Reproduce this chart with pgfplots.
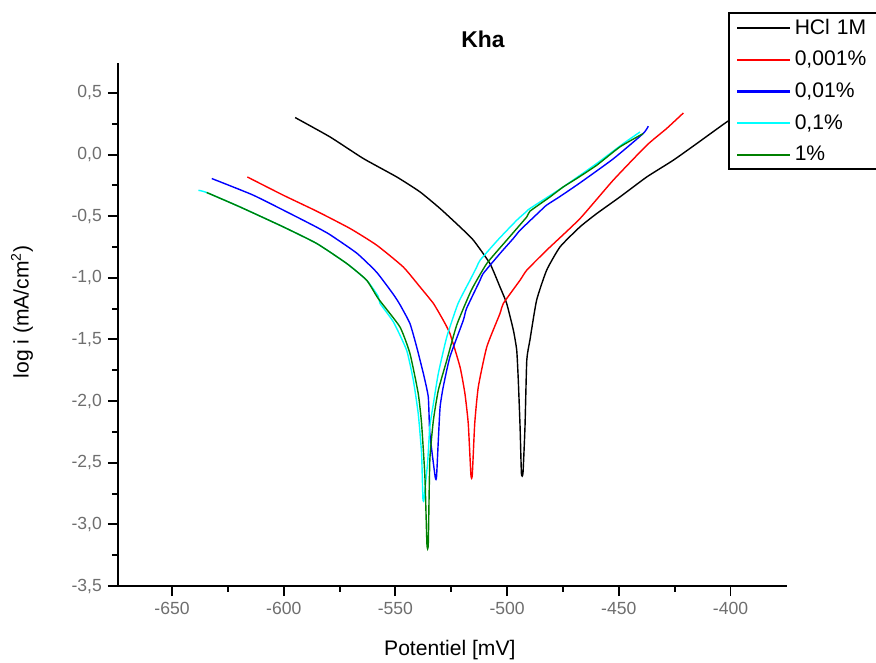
\documentclass[border=0pt]{standalone}
\usepackage{pgfplots}
\pgfplotsset{compat=1.18}
\usepackage{fontspec}
\setmainfont{Liberation Sans}
\definecolor{ogreen}{RGB}{0,128,0}
\definecolor{ocyan}{RGB}{0,255,255}
\definecolor{ored}{RGB}{255,0,0}
\definecolor{oblue}{RGB}{0,0,255}
\definecolor{tickgray}{RGB}{110,110,110}
\begin{document}
\begin{tikzpicture}
\useasboundingbox (0,0) rectangle (17.52cm,13.24cm);
\clip (0,0) rectangle (17.52cm,13.24cm);
\begin{axis}[
  at={(2.36cm,1.52cm)}, anchor=south west,
  scale only axis, width=13.38cm, height=10.466cm,
  xmin=-674.2, xmax=-374.7, ymin=-3.5, ymax=0.745,
  axis lines=left, axis line style={-, line width=1.1pt},
  xtick={-650,-600,...,-400}, ytick={-3.5,-3,...,0.5},
  minor x tick num=1, minor y tick num=1,
  tick align=outside, tick style={line width=1.1pt, black},
  major tick length=0.2cm, minor tick length=0.11cm,
  /pgf/number format/assume math mode=true,
  /pgf/number format/use comma,
  yticklabel style={/pgf/number format/fixed, /pgf/number format/fixed zerofill, /pgf/number format/precision=1},
  xticklabel style={/pgf/number format/1000 sep={}},
  tick label style={font=\fontsize{10}{12}\selectfont, text=tickgray},
  xlabel={Potentiel [mV]}, ylabel={log i (mA/cm\textsuperscript{2})},
  label style={font=\fontsize{12}{14}\selectfont},
  xlabel style={at={(axis description cs:0.496,-0.122)}, anchor=center},
  ylabel style={at={(axis description cs:-0.1435,0.524)}, anchor=center},
  title={\textbf{Kha}}, title style={font=\fontsize{13}{15}\selectfont, at={(axis description cs:0.5456,1.024)}, anchor=center},
  legend style={at={(axis description cs:0.912,1.097)}, anchor=north west, draw=black, line width=1.1pt, fill=white,
    font=\fontsize{12}{14}\selectfont, row sep=4.1pt, inner xsep=4pt, inner ysep=1.5pt},
  legend cell align=left,
  legend image code/.code={\draw[#1, line width=1.2pt] (0cm,0cm) -- (1.06cm,0cm);},
  legend style={nodes={text width=3cm}},
  every axis plot/.append style={line width=0.8pt, smooth, tension=0.3},
  clip=false,
]
\addplot[black] table {
-594.9 0.300
-579.3 0.143
-564.4 -0.032
-549.4 -0.182
-539.0 -0.303
-530.0 -0.438
-521.1 -0.587
-515.1 -0.695
-507.7 -0.884
-503.2 -1.074
-500.2 -1.208
-497.2 -1.425
-495.7 -1.587
-495.0 -1.830
-494.2 -2.209
-493.6 -2.585
-492.9 -2.585
-492.0 -2.209
-491.2 -1.668
-489.8 -1.506
-486.8 -1.182
-482.3 -0.938
-476.3 -0.749
-467.4 -0.587
-459.9 -0.479
-449.5 -0.344
-437.5 -0.182
-425.6 -0.046
-415.1 0.089
-401.7 0.264
-394.0 0.350
};
\addlegendentry{HCl 1M}
\addplot[ored] table {
-616.3 -0.182
-600.2 -0.330
-585.2 -0.460
-570.3 -0.600
-558.4 -0.735
-546.5 -0.912
-539.0 -1.074
-533.0 -1.208
-528.6 -1.344
-525.6 -1.452
-521.1 -1.722
-518.9 -1.938
-517.4 -2.182
-516.2 -2.600
-515.6 -2.600
-514.5 -2.182
-512.9 -1.885
-509.1 -1.560
-503.2 -1.290
-501.7 -1.208
-494.2 -1.019
-491.2 -0.938
-482.3 -0.776
-467.4 -0.520
-452.5 -0.208
-437.5 0.075
-428.6 0.211
-421.1 0.337
};
\addlegendentry{0,001\%}
\addplot[oblue] table {
-632.2 -0.195
-613.6 -0.330
-594.2 -0.506
-585.2 -0.590
-579.3 -0.650
-567.3 -0.800
-558.4 -0.955
-550.9 -1.135
-547.9 -1.220
-543.5 -1.371
-540.5 -1.560
-537.5 -1.776
-535.3 -1.966
-534.6 -2.263
-532.2 -2.615
-531.6 -2.615
-530.8 -2.317
-530.0 -2.047
-528.6 -1.885
-525.6 -1.641
-519.6 -1.344
-518.2 -1.250
-512.1 -1.019
-510.7 -0.965
-503.2 -0.803
-497.2 -0.680
-494.2 -0.614
-485.3 -0.460
-482.3 -0.410
-476.3 -0.340
-467.4 -0.230
-452.5 -0.035
-439.1 0.170
-436.8 0.230
};
\addlegendentry{0,01\%}
\addplot[ocyan] table {
-638.2 -0.290
-634.5 -0.308
-619.6 -0.425
-600.2 -0.587
-585.2 -0.722
-571.8 -0.884
-562.9 -1.019
-557.7 -1.150
-556.9 -1.208
-550.9 -1.358
-545.0 -1.587
-542.0 -1.830
-539.8 -2.101
-538.3 -2.425
-537.7 -2.790
-537.2 -2.790
-535.6 -2.500
-534.6 -2.209
-533.0 -2.020
-530.8 -1.776
-527.0 -1.479
-522.0 -1.210
-516.6 -1.019
-513.6 -0.912
-512.1 -0.857
-504.0 -0.690
-495.7 -0.533
-491.2 -0.460
-489.8 -0.438
-474.9 -0.263
-459.9 -0.073
-448.0 0.089
-440.5 0.183
};
\addlegendentry{0,1\%}
\addplot[ogreen] table {
-634.5 -0.308
-619.6 -0.425
-600.2 -0.587
-585.2 -0.722
-571.8 -0.884
-562.9 -1.019
-557.7 -1.168
-548.0 -1.398
-543.5 -1.614
-539.8 -1.938
-538.3 -2.182
-536.8 -2.615
-535.9 -3.160
-535.3 -3.160
-534.6 -2.479
-533.0 -2.155
-530.8 -1.912
-527.0 -1.668
-522.5 -1.380
-516.0 -1.100
-509.1 -0.884
-500.2 -0.695
-491.2 -0.506
-489.8 -0.460
-480.8 -0.344
-474.9 -0.263
-468.9 -0.195
-459.9 -0.087
-449.5 0.062
-439.1 0.170
};
\addlegendentry{1\%}
\end{axis}
\end{tikzpicture}
\end{document}
